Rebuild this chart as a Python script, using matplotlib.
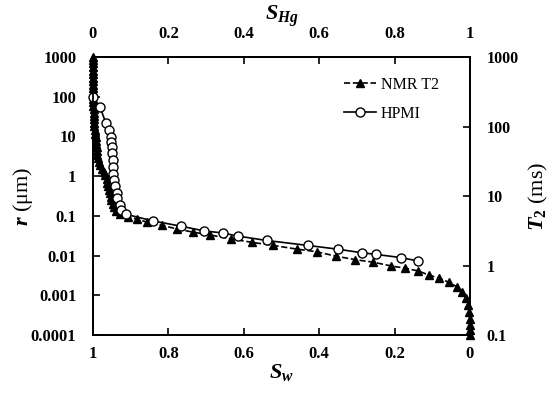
import numpy as np
import matplotlib
matplotlib.use("Agg")
import matplotlib.pyplot as plt
from matplotlib.ticker import FixedLocator, FuncFormatter, NullLocator

plt.rcParams["font.family"] = "Liberation Serif"
plt.rcParams["font.weight"] = "bold"
plt.rcParams["mathtext.fontset"] = "custom"
plt.rcParams["mathtext.it"] = "Liberation Serif:italic:bold"
plt.rcParams["mathtext.rm"] = "Liberation Serif:bold"
plt.rcParams["mathtext.bf"] = "Liberation Serif:bold"

# HPMI: mercury saturation and pore throat radius (um)
hpmi_shg = [0.0, 0.019, 0.034, 0.043, 0.047, 0.049, 0.050, 0.050, 0.052, 0.053,
            0.054, 0.056, 0.059, 0.063, 0.065, 0.071, 0.074, 0.087, 0.158, 0.233,
            0.294, 0.345, 0.384, 0.461, 0.570, 0.649, 0.713, 0.751, 0.817, 0.862]
hpmi_r = [100, 54, 22, 14.5, 9.8, 7.4, 5.5, 3.9, 2.5, 1.7,
          1.12, 0.79, 0.56, 0.37, 0.28, 0.19, 0.14, 0.11, 0.075, 0.055,
          0.042, 0.037, 0.031, 0.024, 0.018, 0.0145, 0.0118, 0.0107, 0.0089, 0.0073]

# NMR T2 converted to radius (um)
nmr_shg = [0, 0, 0, 0, 0, 0, 0, 0, 0, 0,
           0, 0, 0, 0, 0.001, 0.002, 0.002, 0.003, 0.003, 0.004,
           0.004, 0.005, 0.005, 0.007, 0.008, 0.009, 0.010, 0.011,
           0.012, 0.014, 0.017, 0.020, 0.025, 0.029, 0.033, 0.036, 0.038, 0.041,
           0.042, 0.045, 0.047, 0.049, 0.052, 0.056, 0.062, 0.073, 0.093, 0.116,
           0.144, 0.182, 0.222, 0.265, 0.311, 0.366, 0.421, 0.478, 0.540, 0.593,
           0.644, 0.695, 0.744, 0.790, 0.828, 0.863, 0.892, 0.919, 0.945, 0.965,
           0.978, 0.989, 0.995, 0.998, 0.999, 1.0, 1.0, 1.0]
nmr_r = [1000, 832, 690, 559, 456, 372, 304, 248, 203, 165,
         135, 110, 90, 73, 60, 49, 40, 33, 27, 22,
         18, 14.5, 11.8, 9.7, 7.9, 6.4, 5.3, 4.3,
         3.5, 2.86, 2.33, 1.90, 1.55, 1.27, 1.04, 0.845, 0.69, 0.56,
         0.46, 0.375, 0.306, 0.25, 0.204, 0.167, 0.136, 0.114, 0.096, 0.083,
         0.069, 0.058, 0.047, 0.039, 0.0329, 0.0264, 0.0216, 0.0180, 0.0146, 0.0125,
         0.0097, 0.0079, 0.0068, 0.0055, 0.0048, 0.0041, 0.0032, 0.0027, 0.0021, 0.00164,
         0.00123, 0.00084, 0.00057, 0.00038, 0.00026, 0.00018, 0.00013, 0.0001]

r_ticks = [0.0001, 0.001, 0.01, 0.1, 1, 10, 100, 1000]
t2_ticks = [0.1, 1, 10, 100, 1000]
sw_ticks = [1, 0.8, 0.6, 0.4, 0.2, 0]

fig = plt.figure(figsize=(5.5, 3.99), dpi=100)
ax = fig.add_axes([0.169, 0.1604, 0.6855, 0.6967])

nmr_sw = 1 - np.array(nmr_shg)
hpmi_sw = 1 - np.array(hpmi_shg)

ax.plot(nmr_sw, nmr_r, linestyle="--", color="black", linewidth=1.2,
        marker="^", markersize=5.5, markerfacecolor="black",
        markeredgecolor="black", label="NMR T2", clip_on=False, zorder=3)
ax.plot(hpmi_sw, hpmi_r, linestyle="-", color="black", linewidth=1.2,
        marker="o", markersize=6.5, markerfacecolor="white",
        markeredgecolor="black", markeredgewidth=1.0, label="HPMI",
        clip_on=False, zorder=4)

ax.set_yscale("log")
ax.set_ylim(0.0001, 1000)
ax.set_xlim(1, 0)
fmt = FuncFormatter(lambda v, p: f"{v:g}")
ax.yaxis.set_major_locator(FixedLocator(r_ticks))
ax.yaxis.set_minor_locator(NullLocator())
ax.yaxis.set_major_formatter(fmt)
ax.xaxis.set_major_locator(FixedLocator(sw_ticks))
ax.xaxis.set_major_formatter(fmt)
ax.tick_params(axis="y", direction="in", length=5, width=1.2, labelsize=12, pad=12)
ax.tick_params(axis="x", direction="in", length=5, width=1.2, labelsize=12, pad=8)

top = ax.secondary_xaxis("top", functions=(lambda x: 1 - x, lambda x: 1 - x))
top.xaxis.set_major_locator(FixedLocator([0, 0.2, 0.4, 0.6, 0.8, 1]))
top.xaxis.set_major_formatter(fmt)
top.tick_params(direction="in", length=5, width=1.2, labelsize=12, pad=11)
top.set_xlabel(r"$S_{Hg}$", fontsize=16, labelpad=4)

ax2 = ax.twinx()
ax2.set_yscale("log")
ax2.set_ylim(0.1, 1000)
ax2.yaxis.set_major_locator(FixedLocator(t2_ticks))
ax2.yaxis.set_minor_locator(NullLocator())
ax2.yaxis.set_major_formatter(fmt)
ax2.tick_params(direction="in", length=5, width=1.2, labelsize=11.5, pad=12)
ax2.set_ylabel(r"$T_2$ (ms)", fontsize=16)
ax2.yaxis.set_label_coords(1.15, 0.5)

for a in (ax, ax2):
    for s in a.spines.values():
        s.set_linewidth(1.3)
top.spines["top"].set_linewidth(1.3)

ax.set_xlabel(r"$S_w$", fontsize=16, labelpad=0)
ax.set_ylabel(r"$r$ (μm)", fontsize=16)
ax.yaxis.set_label_coords(-0.155, 0.5)

leg = ax.legend(loc="upper right", frameon=False,
                prop={"family": "Liberation Serif", "weight": "normal", "size": 11.5},
                handlelength=2.0, labelspacing=0.8, handletextpad=0.3,
                bbox_to_anchor=(0.955, 0.98))

fig.savefig("out.png", dpi=100)
